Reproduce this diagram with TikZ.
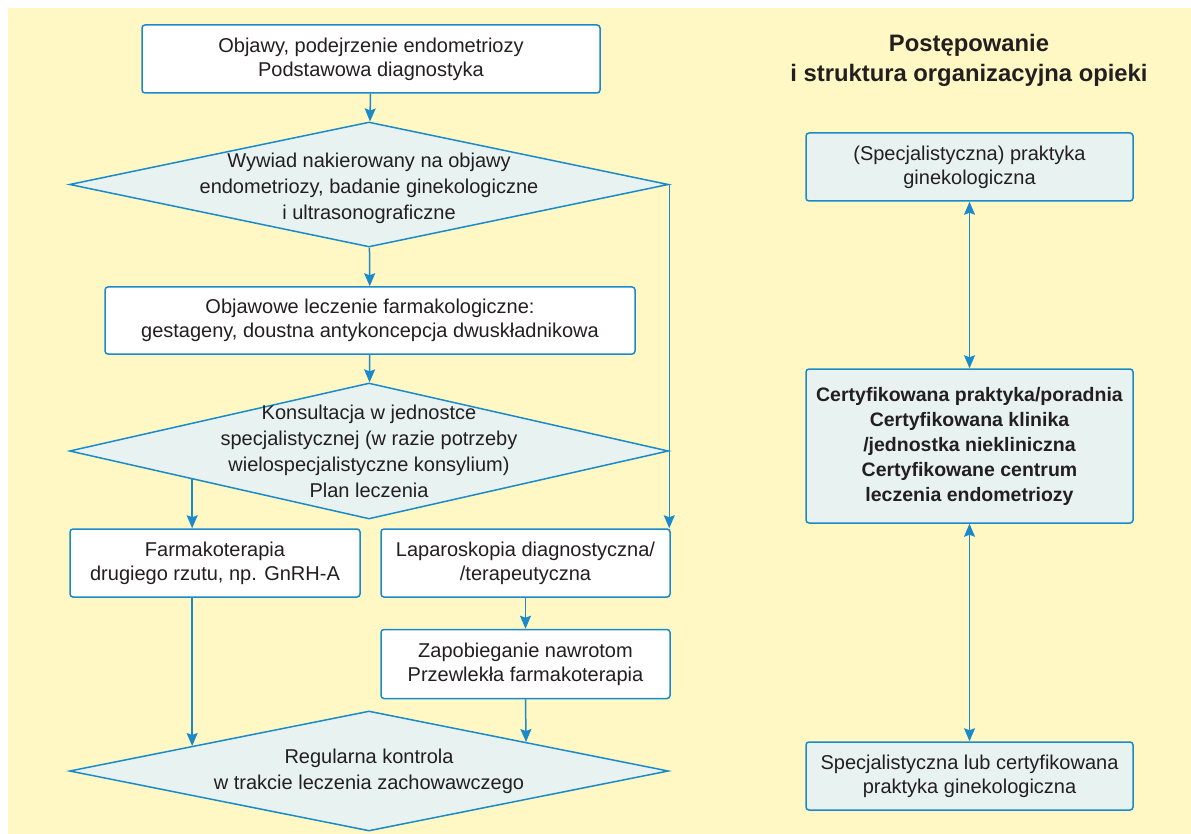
\documentclass[tikz,border=0pt]{standalone}
\usepackage{fontspec}
\setmainfont{Liberation Sans}
\usetikzlibrary{shapes.geometric, arrows.meta, positioning, calc}
\definecolor{bgyellow}{HTML}{FFF8C4}
\definecolor{lineblue}{HTML}{1B8ACB}
\definecolor{paleteal}{HTML}{E8F2F1}
\definecolor{inkgray}{HTML}{231F20}

\begin{document}
\begin{tikzpicture}[x=1pt, y=-1pt,
    every node/.style={font=\fontsize{20}{24}\selectfont, text=inkgray},
    stepbox/.style={rectangle, draw=lineblue, line width=1.5pt, rounded corners=3pt,
                    fill=white, align=center, inner sep=0pt},
    carebox/.style={stepbox, fill=paleteal, minimum width=327pt},
    decision/.style={diamond, draw=lineblue, line width=1.5pt, fill=paleteal, inner sep=0pt},
    dlabel/.style={align=center, font=\fontsize{20}{26}\selectfont},
    arr/.style={-{Stealth[length=13pt, width=11pt, inset=2pt]}, line width=1.5pt, draw=lineblue},
    dbl/.style={{Stealth[length=13pt, width=11pt, inset=2pt]}-{Stealth[length=13pt, width=11pt, inset=2pt]},
                line width=1.5pt, draw=lineblue}
]
    \fill[white] (0,0) rectangle (1191,834);
    \fill[bgyellow] (8,8) rectangle (1191,834);
    \useasboundingbox (0,0) rectangle (1191,834);

    \node[stepbox, minimum width=458pt, minimum height=68pt] (objawy) at (371,59)
        {Objawy, podejrzenie endometriozy\\Podstawowa diagnostyka};
    \node[decision, minimum width=599pt, minimum height=125pt,
          label={[dlabel, yshift=-4pt]center:Wywiad nakierowany na objawy\\endometriozy, badanie ginekologiczne\\i ultrasonograficzne}]
        (wywiad) at (369,184.5) {};
    \node[stepbox, minimum width=530pt, minimum height=67pt] (objawowe) at (370,320.5)
        {Objawowe leczenie farmakologiczne:\\gestageny, doustna antykoncepcja dwuskładnikowa};
    \node[decision, minimum width=599pt, minimum height=136pt,
          label={[dlabel]center:Konsultacja w jednostce\\specjalistycznej (w razie potrzeby\\wielospecjalistyczne konsylium)\\Plan leczenia}]
        (konsultacja) at (369,451) {};
    \node[stepbox, minimum width=290pt, minimum height=68pt] (farmako) at (215,563)
        {Farmakoterapia\\drugiego rzutu, np. GnRH-A};
    \node[stepbox, minimum width=289pt, minimum height=68pt] (laparo) at (525.5,563)
        {Laparoskopia diagnostyczna/\\/terapeutyczna};
    \node[stepbox, minimum width=289pt, minimum height=69pt, below=31pt of laparo] (zapobieg)
        {Zapobieganie nawrotom\\Przewlekła farmakoterapia};
    \node[decision, minimum width=599pt, minimum height=120pt,
          label={[dlabel]center:Regularna kontrola\\w trakcie leczenia zachowawczego}]
        (kontrola) at (369,771) {};

    \node[align=center, font=\bfseries\fontsize{23.8}{30}\selectfont] (tytul) at (969,60)
        {Postępowanie\\i struktura organizacyjna opieki};
    \node[carebox, minimum height=68pt] (praktyka) at (969.5,167)
        {(Specjalistyczna) praktyka\\ginekologiczna};
    \node[carebox, minimum height=154pt, font=\bfseries\fontsize{19.5}{25}\selectfont] (certyf) at (969.5,446)
        {Certyfikowana praktyka/poradnia\\Certyfikowana klinika\\/jednostka niekliniczna\\Certyfikowane centrum\\leczenia endometriozy};
    \node[carebox, minimum height=68pt] (specjal) at (969.5,776)
        {Specjalistyczna lub certyfikowana\\praktyka ginekologiczna};

    \draw[arr] (objawy) -- (wywiad);
    \draw[arr] (wywiad) -- (objawowe);
    \draw[arr] (objawowe) -- (konsultacja);
    \draw[arr] ($(konsultacja.west)!0.411!(konsultacja.south)$) coordinate (lewy) -- (lewy |- farmako.north);
    \draw[arr] (wywiad.east) -- (wywiad.east |- laparo.north);
    \draw[arr] (laparo) -- (zapobieg);
    \draw[arr] (farmako.south -| lewy) -- ($(kontrola.west)!0.411!(kontrola.north)$);
    \draw[arr] (zapobieg.south) -- ($(kontrola.north)!0.523!(kontrola.east)$);
    \draw[dbl] (praktyka) -- (certyf);
    \draw[dbl] (certyf) -- (specjal);
\end{tikzpicture}
\end{document}
